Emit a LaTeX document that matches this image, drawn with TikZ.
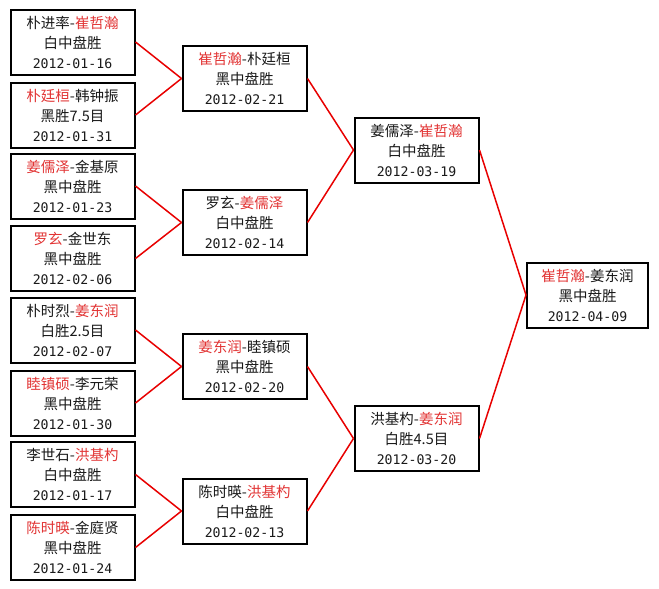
\documentclass[tikz,border=0pt]{standalone}
\usepackage{fontspec}
\setmainfont{Noto Sans CJK SC}
\newfontfamily\datefont{DejaVu Sans Mono}

\definecolor{winred}{RGB}{226,52,52}
\definecolor{linkred}{RGB}{232,0,0}
\definecolor{textgray}{RGB}{25,25,25}

\newcommand{\win}[1]{\textcolor{winred}{#1}}
\newcommand{\mdate}[1]{{\datefont\fontsize{13.2}{20}\selectfont #1}}

\tikzset{
  match/.style={draw=black, line width=2pt, text=textgray,
    minimum width=124pt, minimum height=65pt, inner sep=0pt,
    align=center, font=\fontsize{14.5}{20}\selectfont},
  link/.style={linkred, line width=1.5pt},
}

\begin{document}
\begin{tikzpicture}[x=1pt, y=-1pt]

  % --- Rahmen ---
  \useasboundingbox (0,0) rectangle (659,589);
  \fill[white] (0,0) rectangle (659,589);

  % --- Erste Runde ---
  \node[match] (r1a) at (72.5, 42.0)  {朴进率-\win{崔哲瀚}\\白中盘胜\\\mdate{2012-01-16}};
  \node[match] (r1b) at (72.5,115.0)  {\win{朴廷桓}-韩钟振\\黑胜7.5目\\\mdate{2012-01-31}};
  \node[match] (r1c) at (72.5,186.0)  {\win{姜儒泽}-金基原\\黑中盘胜\\\mdate{2012-01-23}};
  \node[match] (r1d) at (72.5,258.5)  {\win{罗玄}-金世东\\黑中盘胜\\\mdate{2012-02-06}};
  \node[match] (r1e) at (72.5,330.0)  {朴时烈-\win{姜东润}\\白胜2.5目\\\mdate{2012-02-07}};
  \node[match] (r1f) at (72.5,403.0)  {\win{睦镇硕}-李元荣\\黑中盘胜\\\mdate{2012-01-30}};
  \node[match] (r1g) at (72.5,474.5)  {李世石-\win{洪基杓}\\白中盘胜\\\mdate{2012-01-17}};
  \node[match] (r1h) at (72.5,547.5)  {\win{陈时暎}-金庭贤\\黑中盘胜\\\mdate{2012-01-24}};

  % --- Zweite Runde ---
  \node[match] (r2a) at (244.5, 78.5) {\win{崔哲瀚}-朴廷桓\\黑中盘胜\\\mdate{2012-02-21}};
  \node[match] (r2b) at (244.5,222.5) {罗玄-\win{姜儒泽}\\白中盘胜\\\mdate{2012-02-14}};
  \node[match] (r2c) at (244.5,366.5) {\win{姜东润}-睦镇硕\\黑中盘胜\\\mdate{2012-02-20}};
  \node[match] (r2d) at (244.5,511.0) {陈时暎-\win{洪基杓}\\白中盘胜\\\mdate{2012-02-13}};

  % --- Halbfinale ---
  \node[match] (r3a) at (416.5,150.0) {姜儒泽-\win{崔哲瀚}\\白中盘胜\\\mdate{2012-03-19}};
  \node[match] (r3b) at (416.5,438.5) {洪基杓-\win{姜东润}\\白胜4.5目\\\mdate{2012-03-20}};

  % --- Finale ---
  \node[match, minimum width=121pt] (fin) at (587.5,295.0) {\win{崔哲瀚}-姜东润\\黑中盘胜\\\mdate{2012-04-09}};

  % --- Verbindungen ---
  \foreach \a/\b in {r1a/r2a, r1b/r2a, r1c/r2b, r1d/r2b,
                     r1e/r2c, r1f/r2c, r1g/r2d, r1h/r2d,
                     r2a/r3a, r2b/r3a, r2c/r3b, r2d/r3b,
                     r3a/fin, r3b/fin}
    \draw[link] (\a.east) -- (\b.west);

\end{tikzpicture}
\end{document}
